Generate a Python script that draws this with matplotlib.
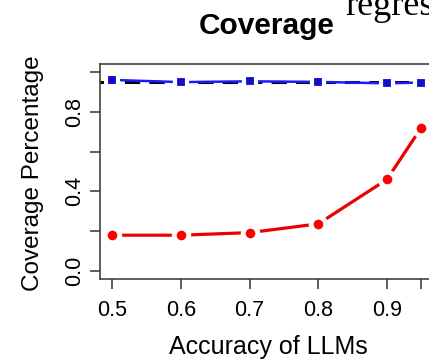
import matplotlib
matplotlib.use("Agg")
import matplotlib.pyplot as plt

# data
accuracy = [0.5, 0.6, 0.7, 0.8, 0.9, 0.95]
coverage_red = [0.18, 0.18, 0.193, 0.237, 0.46, 0.72]
coverage_blue = [0.96, 0.949, 0.953, 0.95, 0.943, 0.947]
nominal = 0.95
xtick_vals = [0.5, 0.6, 0.7, 0.8, 0.9, 0.95]
xtick_labels = ["0.5", "0.6", "0.7", "0.8", "0.9", ""]
ytick_vals = [0.0, 0.2, 0.4, 0.6, 0.8, 1.0]
ytick_labels = ["0.0", "", "0.4", "", "0.8", ""]

plt.rcParams["font.family"] = ["Liberation Sans", "DejaVu Sans"]

fig = plt.figure(figsize=(4.29, 3.62), dpi=100)
ax = fig.add_axes([100 / 429, 1 - 279 / 362, 333.6 / 429, 215 / 362])

ax.axhline(nominal, color="black", lw=2.2, ls=(0, (5, 3)), zorder=2)
ax.plot(accuracy, coverage_blue, color="#1a1aff", lw=1.8, marker="s",
        markersize=8.5, markerfacecolor="#1010c8", markeredgecolor="white",
        markeredgewidth=3.0, zorder=3)
ax.plot(accuracy, coverage_red, color="#ee0000", lw=2.3, marker="o",
        markersize=10.5, markerfacecolor="#ff0000", markeredgecolor="white",
        markeredgewidth=3.5, zorder=4)

ax.set_xlim(0.482, 0.968)
ax.set_ylim(-0.04, 1.04)
ax.set_xticks(xtick_vals)
ax.set_xticklabels(xtick_labels)
ax.set_yticks(ytick_vals)
ax.set_yticklabels(ytick_labels, rotation=90, va="center")
ax.tick_params(direction="out", length=7, width=1.1, color="#333333",
               labelsize=15.5)
ax.tick_params(axis="x", pad=8)
ax.tick_params(axis="y", pad=4)
for s in ax.spines.values():
    s.set_linewidth(1.1)
    s.set_color("#333333")

ax.set_xlabel("Accuracy of LLMs", fontsize=18)
ax.xaxis.set_label_coords(0.504, -0.26)
ax.set_ylabel("Coverage Percentage", fontsize=17.5)
ax.yaxis.set_label_coords(-0.168, 0.49)

fig.text(267 / 429, 1 - 34 / 362, "Coverage", ha="center", va="baseline",
         fontsize=21.5, fontweight="bold")
fig.text(345 / 429, 1 - 15 / 362, "regres", ha="left", va="baseline",
         fontsize=26, family="Liberation Serif")

fig.savefig("out.png", dpi=100)
